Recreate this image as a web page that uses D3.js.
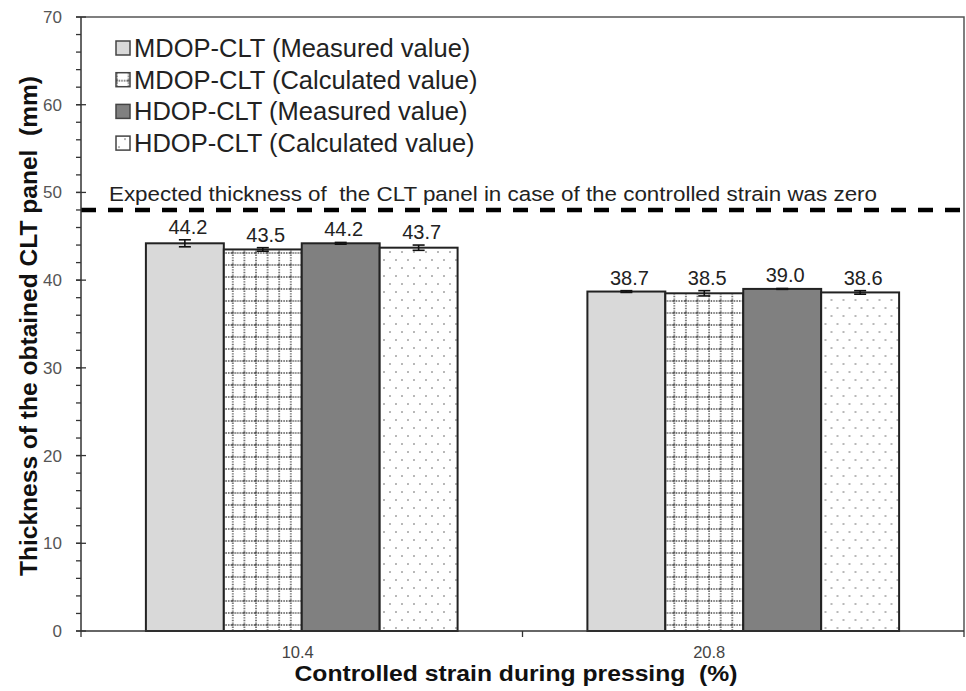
<!DOCTYPE html>
<html>
<head>
<meta charset="utf-8">
<script src="https://cdn.jsdelivr.net/npm/d3@7"></script>
<style>
  html, body { margin: 0; padding: 0; background: #fff; }
  svg { display: block; font-family: "Liberation Sans", Arial, sans-serif; }
</style>
</head>
<body>
<svg id="chart" width="966" height="691"></svg>
<script>
// Controlled strain levels (x categories)
const categories = ["10.4", "20.8"];

// Series labels
const seriesNames = [
  "MDOP-CLT (Measured value)",
  "MDOP-CLT (Calculated value)",
  "HDOP-CLT (Measured value)",
  "HDOP-CLT (Calculated value)"
];

// Panel thickness (mm) per series, one value per strain level
const mdopMeasured   = [44.2, 38.7];
const mdopCalculated = [43.5, 38.5];
const hdopMeasured   = [44.2, 39.0];
const hdopCalculated = [43.7, 38.6];

// Standard deviations (mm)
const mdopMeasuredErr   = [0.4, 0.1];
const mdopCalculatedErr = [0.2, 0.3];
const hdopMeasuredErr   = [0.1, 0.05];
const hdopCalculatedErr = [0.3, 0.2];

// Expected thickness with zero strain (mm)
const expectedThickness = 48;

// Y axis ticks
const yMajorTicks = [0, 10, 20, 30, 40, 50, 60, 70];
const yMinorTicks = d3.range(0, 71, 2);

const seriesValues = [mdopMeasured, mdopCalculated, hdopMeasured, hdopCalculated];
const seriesErrors = [mdopMeasuredErr, mdopCalculatedErr, hdopMeasuredErr, hdopCalculatedErr];

const svg = d3.select("#chart");
const margin = { left: 81, right: 2, top: 17, bottom: 60 };
const W = 966, H = 691;
const plotL = margin.left, plotR = W - margin.right, plotT = margin.top, plotB = H - margin.bottom;

// Fill patterns
const defs = svg.append("defs");
const grid = defs.append("pattern")
  .attr("id", "gridPat").attr("patternUnits", "userSpaceOnUse")
  .attr("width", 11.6).attr("height", 12);
grid.append("rect").attr("width", 11.6).attr("height", 12).attr("fill", "#fff");
grid.append("line").attr("x1", 1).attr("x2", 1).attr("y1", 0).attr("y2", 12)
  .attr("stroke", "#444").attr("stroke-width", 1.4).attr("stroke-dasharray", "1.4,1.2");
grid.append("line").attr("x1", 0).attr("x2", 11.6).attr("y1", 1).attr("y2", 1)
  .attr("stroke", "#444").attr("stroke-width", 1.4).attr("stroke-dasharray", "1.4,1.2");

const dots = defs.append("pattern")
  .attr("id", "dotPat").attr("patternUnits", "userSpaceOnUse")
  .attr("width", 12).attr("height", 16);
dots.append("rect").attr("width", 12).attr("height", 16).attr("fill", "#fff");
dots.append("circle").attr("cx", 3).attr("cy", 4).attr("r", 0.95).attr("fill", "#9a9a9a");
dots.append("circle").attr("cx", 9).attr("cy", 12).attr("r", 0.95).attr("fill", "#9a9a9a");

const fills = ["#d9d9d9", "url(#gridPat)", "#808080", "url(#dotPat)"];

// Scales
const x0 = d3.scaleBand().domain(categories).range([plotL, plotR]).padding(0);
const bw = x0.bandwidth();
const x1 = d3.scaleBand().domain(d3.range(seriesNames.length))
  .range([bw * 0.147, bw * 0.853]).padding(0);
const y = d3.scaleLinear().domain([0, 70]).range([plotB, plotT]);

// Plot frame (top and right)
svg.append("path")
  .attr("d", `M${plotL},${plotT}H${plotR}V${plotB}`)
  .attr("fill", "none").attr("stroke", "#555").attr("stroke-width", 1.5);

// Bars
const groups = svg.append("g").selectAll("g")
  .data(categories).join("g")
  .attr("transform", d => `translate(${x0(d)},0)`);

groups.each(function(cat, ci) {
  const g = d3.select(this);
  seriesValues.forEach((vals, si) => {
    const v = vals[ci];
    g.append("rect")
      .attr("x", x1(si)).attr("width", x1.bandwidth())
      .attr("y", y(v)).attr("height", y(0) - y(v))
      .attr("fill", fills[si]).attr("stroke", "#222").attr("stroke-width", 2);
  });
  // Error bars
  seriesValues.forEach((vals, si) => {
    const v = vals[ci], e = seriesErrors[si][ci];
    const cx = x1(si) + x1.bandwidth() / 2;
    const eb = g.append("g").attr("stroke", "#111").attr("stroke-width", 1.6);
    eb.append("line").attr("x1", cx).attr("x2", cx).attr("y1", y(v - e)).attr("y2", y(v + e));
    eb.append("line").attr("x1", cx - 6).attr("x2", cx + 6).attr("y1", y(v + e)).attr("y2", y(v + e));
    eb.append("line").attr("x1", cx - 6).attr("x2", cx + 6).attr("y1", y(v - e)).attr("y2", y(v - e));
  });
  // Value labels
  seriesValues.forEach((vals, si) => {
    const v = vals[ci], e = seriesErrors[si][ci];
    g.append("text")
      .attr("x", x1(si) + x1.bandwidth() / 2 + 3)
      .attr("y", y(v + e) - 6)
      .attr("text-anchor", "middle")
      .attr("font-size", 20).attr("fill", "#222")
      .text(v.toFixed(1));
  });
});

// Expected thickness reference line
svg.append("line")
  .attr("x1", plotL).attr("x2", plotR)
  .attr("y1", y(expectedThickness)).attr("y2", y(expectedThickness))
  .attr("stroke", "#000").attr("stroke-width", 4.5).attr("stroke-dasharray", "15,12");
svg.append("text")
  .attr("x", 109).attr("y", y(expectedThickness) - 9)
  .attr("font-size", 20.5).attr("fill", "#222")
  .attr("xml:space", "preserve")
  .attr("textLength", 768).attr("lengthAdjust", "spacingAndGlyphs")
  .text("Expected thickness of  the CLT panel in case of the controlled strain was zero");

// Y axis
const yAxis = svg.append("g");
yAxis.append("line").attr("x1", plotL).attr("x2", plotL).attr("y1", plotT).attr("y2", plotB)
  .attr("stroke", "#333").attr("stroke-width", 1.5);
yAxis.selectAll(".minor").data(yMinorTicks).join("line")
  .attr("x1", plotL - 5).attr("x2", plotL)
  .attr("y1", d => y(d)).attr("y2", d => y(d))
  .attr("stroke", "#333").attr("stroke-width", 1.3);
yAxis.selectAll(".major").data(yMajorTicks).join("line")
  .attr("x1", plotL - 5).attr("x2", plotL + 5)
  .attr("y1", d => y(d)).attr("y2", d => y(d))
  .attr("stroke", "#333").attr("stroke-width", 1.3);
yAxis.selectAll("text").data(yMajorTicks).join("text")
  .attr("x", plotL - 19).attr("y", d => y(d) + 6)
  .attr("text-anchor", "end").attr("font-size", 17).attr("fill", "#555")
  .text(d => d);

// X axis
const xAxis = svg.append("g");
xAxis.append("line").attr("x1", plotL).attr("x2", plotR).attr("y1", plotB).attr("y2", plotB)
  .attr("stroke", "#333").attr("stroke-width", 1.5);
const bounds = [plotL, ...categories.map(c => x0(c) + bw)];
xAxis.selectAll(".xt").data(bounds).join("line")
  .attr("x1", d => d).attr("x2", d => d).attr("y1", plotB).attr("y2", plotB + 6)
  .attr("stroke", "#333").attr("stroke-width", 1.3);
xAxis.selectAll("text").data(categories).join("text")
  .attr("x", (d, i) => x0(d) + bw / 2 - (i === 0 ? 4 : 34))
  .attr("y", plotB + 27)
  .attr("text-anchor", "middle").attr("font-size", 16.5).attr("fill", "#444")
  .text(d => d);

// Axis titles
svg.append("text")
  .attr("x", 516).attr("y", 681)
  .attr("text-anchor", "middle").attr("font-size", 22).attr("font-weight", "bold").attr("fill", "#111")
  .attr("xml:space", "preserve")
  .attr("textLength", 443).attr("lengthAdjust", "spacingAndGlyphs")
  .text("Controlled strain during pressing  (%)");
svg.append("text")
  .attr("transform", "translate(37,326) rotate(-90)")
  .attr("text-anchor", "middle").attr("font-size", 23).attr("font-weight", "bold").attr("fill", "#111")
  .attr("xml:space", "preserve")
  .attr("textLength", 500).attr("lengthAdjust", "spacingAndGlyphs")
  .text("Thickness of the obtained CLT panel  (mm)");

// Legend
const legend = svg.append("g").selectAll("g").data(seriesNames).join("g")
  .attr("transform", (d, i) => `translate(116,${48 + i * 31.7})`);
legend.append("rect")
  .attr("x", 0).attr("y", -7).attr("width", 14).attr("height", 14)
  .attr("fill", (d, i) => fills[i]).attr("stroke", "#444").attr("stroke-width", 1.5);
legend.append("text")
  .attr("x", 18).attr("y", 9)
  .attr("font-size", 25.5).attr("fill", "#222")
  .text(d => d);
</script>
</body>
</html>
